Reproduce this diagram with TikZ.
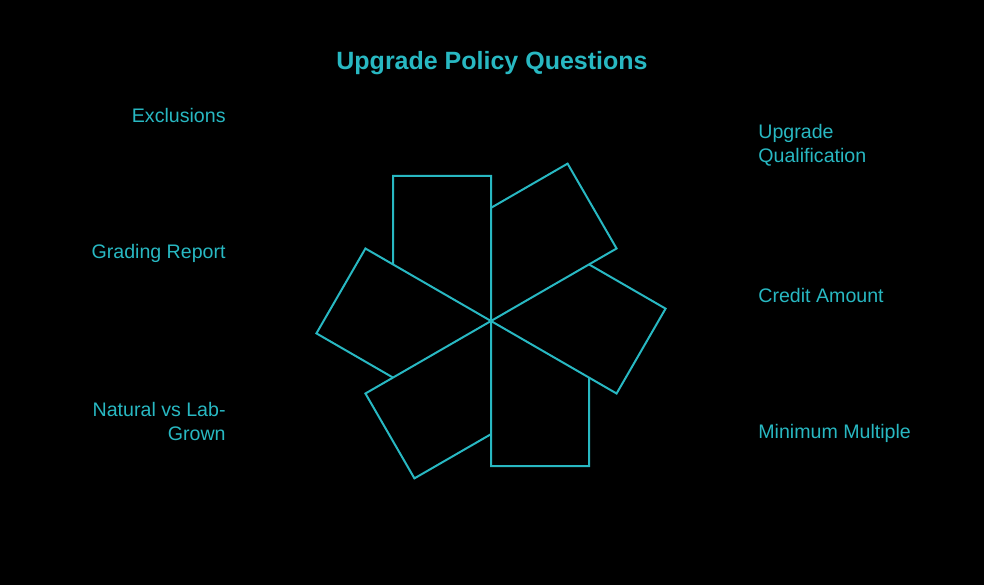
\documentclass[tikz,border=0pt]{standalone}
\usepackage{fontspec}
\setmainfont{Liberation Sans}
\usetikzlibrary{positioning}

\definecolor{teal}{RGB}{40,184,194}

\begin{document}
\begin{tikzpicture}[x=1pt,y=-1pt,thick,
	lbl/.style={text=teal,font=\fontsize{19.6}{24}\selectfont,inner sep=0pt},
	blade/.style={draw=teal,line width=2pt,line join=miter}]

\fill[black] (0,0) rectangle (984,585);
\useasboundingbox (0,0) rectangle (984,585);

\node[text=teal,font=\fontsize{25}{28}\selectfont\bfseries] (title) at (492,63) {Upgrade Policy Questions};

\node[lbl,anchor=east] (excl) at (226,115) {Exclusions};
\node[lbl,anchor=east] (grad) at (226,253) {Grading Report};
\node[lbl,anchor=east,align=right] (natl) at (226,421) {Natural vs Lab-\\Grown};

\node[lbl,anchor=west,align=left] (qual) at (758,145) {Upgrade\\Qualification};
\node[lbl,anchor=west] (cred) at (758,295) {Credit Amount};
\node[lbl,anchor=west] (mult) at (758,433) {Minimum Multiple};

\coordinate (hub) at (491,321);

\begin{scope}[shift={(hub)}]
\foreach \a in {-90,-30,30,90,150,210}
	\draw[blade] (0,0) -- (\a:145) -- ++(\a-90:98) -- (\a-60:113.16);
\end{scope}

\end{tikzpicture}
\end{document}
